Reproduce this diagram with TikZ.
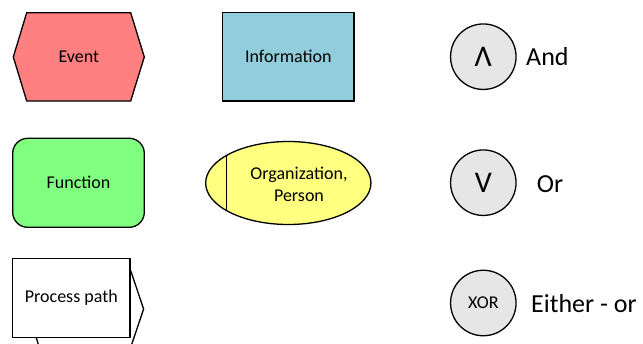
\documentclass[tikz,border=0pt]{standalone}
\usepackage{fontspec}
\setmainfont{Carlito}
\usetikzlibrary{shapes.geometric}
\definecolor{evred}{HTML}{FF8080}
\definecolor{infoblue}{HTML}{92CDDC}
\definecolor{fngreen}{HTML}{80FF80}
\definecolor{orgyellow}{HTML}{FFFF80}
\definecolor{opgrey}{HTML}{E6E6E6}
\tikzset{
  outline/.style={draw=black, line width=1.3pt, line join=miter},
  boxlabel/.style={font=\fontsize{18}{21}\selectfont, align=center, inner sep=0pt},
  opcircle/.style={outline, circle, fill=opgrey, minimum size=65.5pt, inner sep=0pt},
  oplabel/.style={font=\fontsize{26}{28}\selectfont, anchor=base west, inner sep=0pt},
}
\begin{document}
\begin{tikzpicture}[x=1pt, y=-1pt]
\useasboundingbox (0,0) rectangle (643,343);
\clip (0,0) rectangle (643,343);

% Event: hexagon
\draw[outline, fill=evred] (26.7,12.7) -- (130.7,12.7) -- (144.3,57) -- (130.7,101)
  -- (26.7,101) -- (13.3,57) -- cycle;
\node[boxlabel] (event) at (78.8,57) {Event};

% Information: rectangle
\node[outline, fill=infoblue, minimum width=131.3pt, minimum height=88.3pt, inner sep=0pt,
  boxlabel] (info) at (288.3,56.8) {Information};

% Function: rounded rectangle
\node[outline, fill=fngreen, rounded corners=15pt, minimum width=131.6pt, minimum height=89pt,
  inner sep=0pt, boxlabel] (func) at (78.5,182.8) {Function};

% Organization: ellipse with a vertical bar ending on its outline
\node[outline, fill=orgyellow, ellipse, minimum width=165.3pt, minimum height=83pt,
  inner sep=0pt] (org) at (288.3,183) {};
\draw[outline] (226.7,183) ++(0,-27.6) -- ++(0,55.2);
\node[boxlabel, font=\fontsize{18}{22}\selectfont] (orgtext) at (299,184) {Organization,\\Person};

% Process path: chevron behind a white rectangle
\draw[outline, fill=white] (40,268) -- (129.8,268) -- (143.6,309) -- (129.8,350)
  -- (40,350) -- (34,330) -- cycle;
\node[outline, fill=white, minimum width=117.3pt, minimum height=79pt, inner sep=0pt,
  boxlabel] (proc) at (71.3,297.8) {Process path};

% Logical operators
\node[opcircle, font=\fontsize{30}{30}\selectfont] (andop) at (483.3,56.7) {Λ};
\node[oplabel] (andlbl) at (526,65.7) {And};

\node[opcircle, font=\fontsize{30}{30}\selectfont] (orop) at (483.3,182.7) {V};
\node[oplabel] (orlbl) at (536.7,192.3) {Or};

\node[opcircle, font=\fontsize{18}{18}\selectfont] (xorop) at (483.3,303) {XOR};
\node[oplabel] (xorlbl) at (531,312.7) {Either - or};
\end{tikzpicture}
\end{document}
